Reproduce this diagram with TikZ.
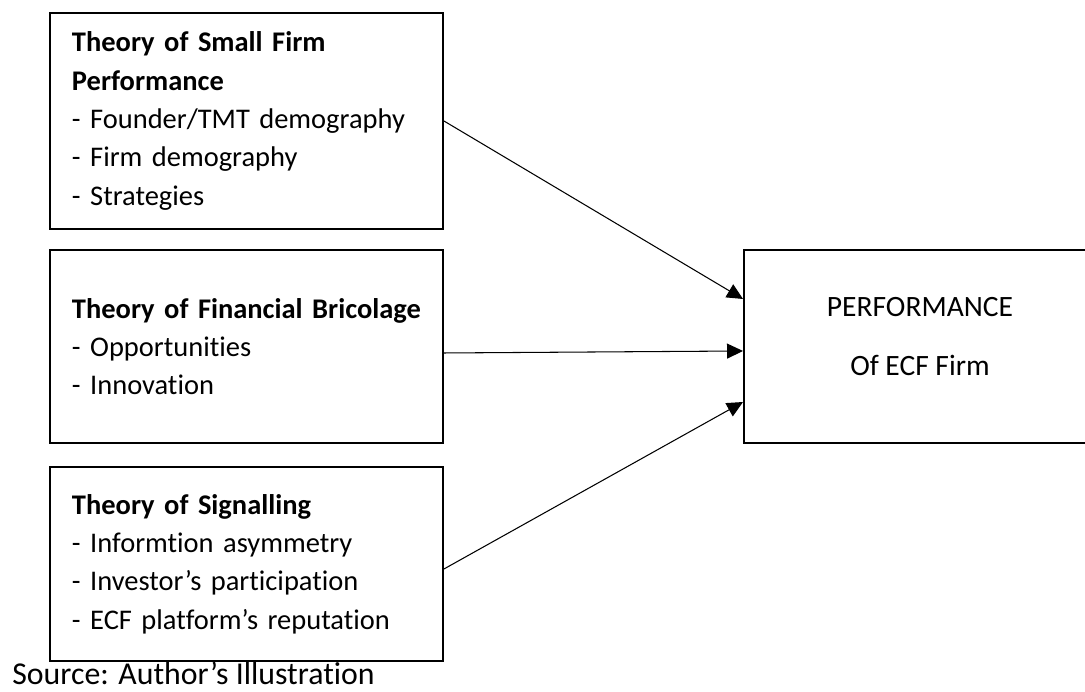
\documentclass[tikz,border=0pt]{standalone}
\usepackage{fontspec}
\setmainfont{Carlito}[Ligatures=CommonOff]
\usetikzlibrary{arrows.meta}

\begin{document}
\begin{tikzpicture}[x=1cm, y=1cm,
    theory/.style={draw, line width=1.1pt, text width=6.98cm, inner xsep=0.44cm, align=left,
                   font=\fontsize{16.2}{21.8}\selectfont},
    outcome/.style={draw, line width=1.1pt, minimum width=7.04cm, minimum height=3.86cm},
    outtext/.style={align=center, font=\fontsize{16.8}{21.8}\selectfont},
    link/.style={line width=0.6pt, -{Triangle[length=0.32cm, width=0.3cm]}}]
    % page size, the outcome box runs off the right edge
    \useasboundingbox (0,0) rectangle (21.7,13.84);
    % Draw theory boxes
    \node [theory, minimum height=4.32cm] (smallfirm) at (4.93,11.42)
        {\textbf{Theory of Small Firm}\\\textbf{Performance}\\- Founder/TMT demography\\- Firm demography\\- Strategies};
    \node [theory, minimum height=3.86cm] (bricolage) at (4.93,6.91)
        {\textbf{Theory of Financial Bricolage}\\- Opportunities\\- Innovation};
    \node [theory, minimum height=3.88cm] (signalling) at (4.93,2.56)
        {\textbf{Theory of Signalling}\\- Informtion asymmetry\\- Investor’s participation\\- ECF platform’s reputation};
    % Draw outcome box
    \node [outcome, label={[outtext, name=perftext, yshift=0.2cm]center:PERFORMANCE\\[0.43cm]Of ECF Firm}] (perf) at (18.40,6.91) {};
    % Draw links
    \draw [link] (smallfirm.east) -- ([yshift=0.95cm]perf.west);
    \draw [link] ([yshift=-0.13cm]bricolage.east) -- ([yshift=-0.09cm]perf.west);
    \draw [link] ([yshift=-0.1cm]signalling.east) -- ([yshift=-1.11cm]perf.west);
    % Source line
    \node [anchor=base west, inner sep=0pt, font=\fontsize{18.1}{21.8}\selectfont] (source) at (0.24,0.15) {Source: Author’s Illustration};
\end{tikzpicture}
\end{document}
